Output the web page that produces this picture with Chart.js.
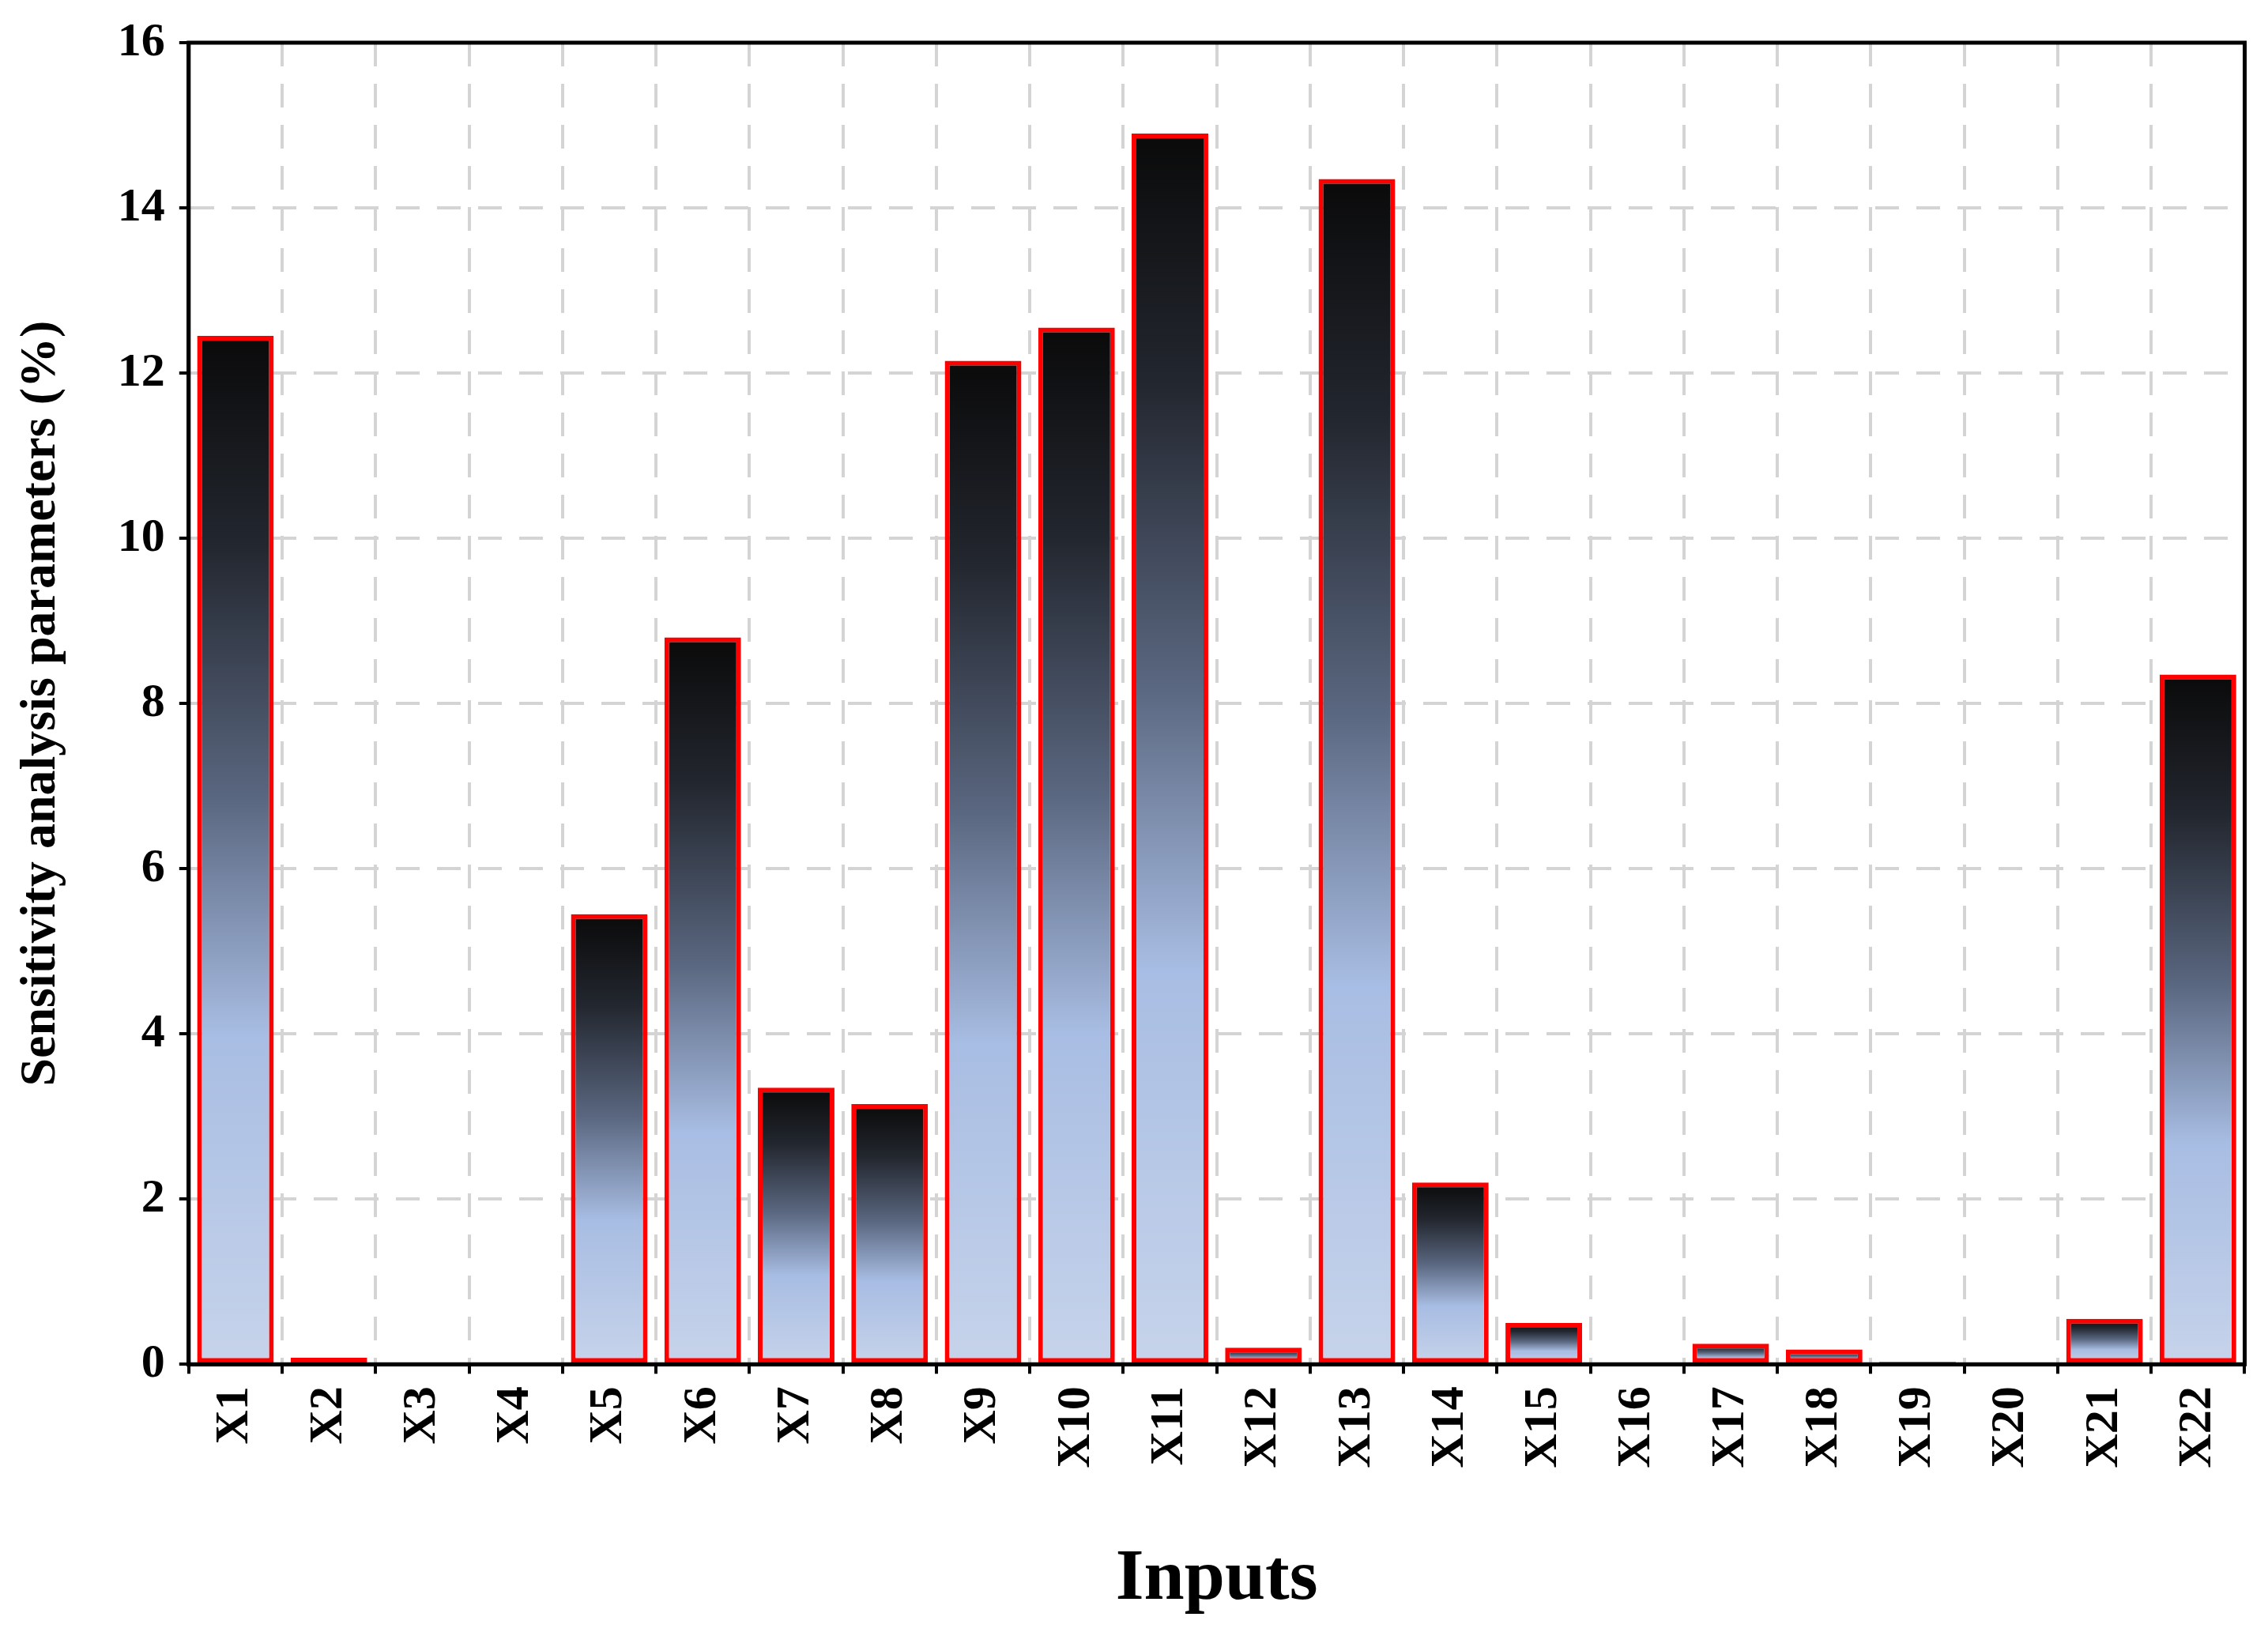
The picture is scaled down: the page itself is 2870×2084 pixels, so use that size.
<!DOCTYPE html>
<html>
<head>
<meta charset="utf-8">
<script src="https://cdn.jsdelivr.net/npm/chart.js@4.4.1/dist/chart.umd.min.js"></script>
<style>
  html, body { margin: 0; padding: 0; background: #fff; }
  #wrap { width: 2870px; height: 2084px; }
</style>
</head>
<body>
<div id="wrap"><canvas id="chart"></canvas></div>
<script>
const categories = ['X1', 'X2', 'X3', 'X4', 'X5', 'X6', 'X7', 'X8', 'X9', 'X10', 'X11',
    'X12', 'X13', 'X14', 'X15', 'X16', 'X17', 'X18', 'X19', 'X20', 'X21', 'X22'];
const sensitivity = [12.45, 0.08, 0.01, 0.01, 5.45, 8.8, 3.35, 3.15, 12.15, 12.55, 14.9,
    0.2, 14.35, 2.2, 0.5, 0.02, 0.25, 0.18, 0.03, 0, 0.55, 8.35];
const yTicks = [0, 2, 4, 6, 8, 10, 12, 14, 16];

const serif = '"Liberation Serif", "DejaVu Serif", serif';

// each bar gets its own dark-to-light gradient, from its top down to zero
function barGradient(context) {
    const chart = context.chart;
    const yScale = chart.scales.y;
    if (!chart.chartArea || !yScale) return '#a8bde3';
    const v = context.raw;
    const top = yScale.getPixelForValue(v);
    const base = yScale.getPixelForValue(0);
    if (base - top < 1) return '#a8bde3';
    const g = chart.ctx.createLinearGradient(0, top, 0, base);
    g.addColorStop(0, '#0a0a0a');
    g.addColorStop(0.2, '#22262e');
    g.addColorStop(0.45, '#5a6780');
    g.addColorStop(0.68, '#a8bde3');
    g.addColorStop(1, '#c6d3ea');
    return g;
}

// black frame around the plot area
const frame = {
    id: 'frame',
    afterDraw(chart) {
        const a = chart.chartArea;
        const ctx = chart.ctx;
        ctx.save();
        ctx.strokeStyle = '#000';
        ctx.lineWidth = 5;
        ctx.strokeRect(a.left, a.top, a.right - a.left, a.bottom - a.top);
        ctx.restore();
    }
};

new Chart(document.getElementById('chart'), {
    type: 'bar',
    data: {
        labels: categories,
        datasets: [{
            data: sensitivity,
            backgroundColor: barGradient,
            borderColor: '#ff0000',
            borderWidth: 6,
            borderSkipped: false,
            barPercentage: 0.82,
            categoryPercentage: 1.0
        }]
    },
    options: {
        responsive: true,
        maintainAspectRatio: false,
        animation: false,
        devicePixelRatio: 1,
        layout: { padding: { top: 45, right: 28, left: 14, bottom: 30 } },
        plugins: { legend: { display: false }, tooltip: { enabled: false } },
        scales: {
            x: {
                grid: {
                    color: '#d4d4d4',
                    lineWidth: 4,
                    tickColor: '#000',
                    tickLength: 12,
                    tickWidth: 4
                },
                border: { display: true, color: '#000', width: 5, dash: [30, 22] },
                ticks: {
                    color: '#000',
                    font: { family: serif, size: 60, weight: 'bold' },
                    minRotation: 90,
                    maxRotation: 90,
                    padding: 16
                },
                title: {
                    display: true,
                    text: 'Inputs',
                    color: '#000',
                    font: { family: serif, size: 92, weight: 'bold' },
                    padding: { top: 70, bottom: 0 }
                }
            },
            y: {
                min: 0,
                max: 16,
                afterBuildTicks(scale) {
                    scale.ticks = yTicks.map(v => ({ value: v }));
                },
                grid: {
                    color: '#d4d4d4',
                    lineWidth: 4,
                    tickColor: '#000',
                    tickLength: 12,
                    tickWidth: 4
                },
                border: { display: true, color: '#000', width: 5, dash: [30, 22] },
                ticks: {
                    color: '#000',
                    font: { family: serif, size: 60, weight: 'bold' },
                    padding: 18
                },
                title: {
                    display: true,
                    text: 'Sensitivity analysis parameters (%)',
                    color: '#000',
                    font: { family: serif, size: 64, weight: 'bold' },
                    padding: { top: 0, bottom: 40 }
                }
            }
        }
    },
    plugins: [frame]
});
</script>
</body>
</html>
